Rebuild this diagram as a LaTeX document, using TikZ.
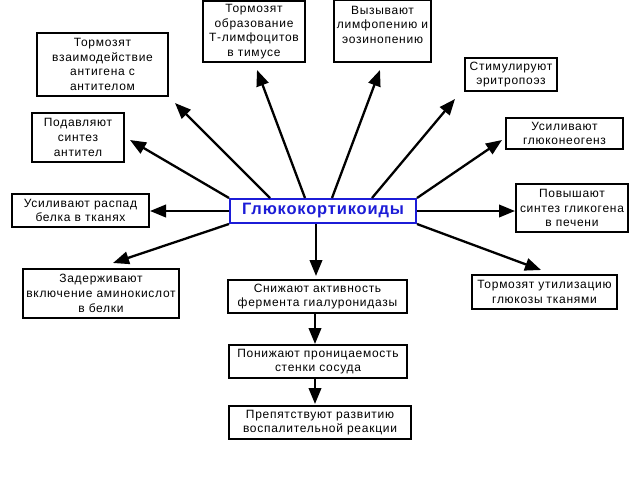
\documentclass[tikz,border=0pt]{standalone}
\usepackage{fontspec}
\setmainfont{Liberation Sans}
\newfontfamily\boxfont[LetterSpace=6]{Liberation Sans}
\newfontfamily\mainfont[LetterSpace=5]{Liberation Sans}
\usetikzlibrary{arrows.meta,calc}
\definecolor{gblue}{RGB}{28,28,215}
\tikzset{
  box/.style={draw=black, line width=2pt, fill=white, inner sep=0pt, align=center,
    font=\boxfont\fontsize{12}{14.7}\selectfont},
  mainbox/.style={draw=gblue, line width=2pt, fill=white, inner sep=0pt, align=center,
    text=gblue, font=\mainfont\bfseries\fontsize{16.5}{18}\selectfont},
  arr/.style={line width=2.3pt, -{Triangle[length=16pt,width=12.5pt]}}
}
\begin{document}
\begin{tikzpicture}[x=1pt,y=-1pt]
\useasboundingbox (0,0) rectangle (640,480);
\node[mainbox, minimum width=186pt, minimum height=24pt] (g) at (323,211) {Глюкокортикоиды};
\node[box, minimum width=131pt, minimum height=63pt] (b1) at (102.5,64.5) {Тормозят\\взаимодействие\\антигена с\\антителом};
\node[box, minimum width=92pt, minimum height=49pt] (b2) at (78,137.5) {Подавляют\\синтез\\антител};
\node[box, minimum width=102pt, minimum height=61pt] (b3) at (254,31.5) {Тормозят\\образование\\Т-лимфоцитов\\в тимусе};
\node[box, minimum width=97pt, minimum height=62pt] (b4) at (382.5,31) {Вызывают\\лимфопению и\\эозинопению\\[-2pt]\mbox{}};
\node[box, minimum width=92pt, minimum height=33pt] (b5) at (511,74.5) {Стимулируют\\эритропоэз};
\node[box, minimum width=117pt, minimum height=31pt] (b6) at (564.5,133.5) {Усиливают\\глюконеогенз};
\node[box, minimum width=137pt, minimum height=33pt] (b7) at (80.5,210.5) {Усиливают распад\\белка в тканях};
\node[box, minimum width=112pt, minimum height=48pt] (b8) at (572,208) {Повышают\\синтез гликогена\\в печени};
\node[box, minimum width=156pt, minimum height=49pt] (b9) at (101,293.5) {Задерживают\\включение аминокислот\\в белки};
\node[box, minimum width=179pt, minimum height=33pt] (b10) at (317.5,296.5) {Снижают активность\\фермента гиалуронидазы};
\node[box, minimum width=145pt, minimum height=34pt] (b11) at (544.5,292) {Тормозят утилизацию\\глюкозы тканями};
\node[box, minimum width=178pt, minimum height=33pt] (b12) at (318,361.5) {Понижают проницаемость\\стенки сосуда};
\node[box, minimum width=182pt, minimum height=33pt] (b13) at (320,422.5) {Препятствуют развитию\\воспалительной реакции};
% arrow tips
\coordinate (t1) at (175,103);
\coordinate (t2) at (130,140);
\coordinate (t3) at (257,70);
\coordinate (t4) at (380,70);
\coordinate (t5) at (455,99);
\coordinate (t6) at (502,140);
\coordinate (t7) at (150,211);
\coordinate (t8) at (515,211);
\coordinate (t9) at (113,263);
\coordinate (t10) at (316,276);
\coordinate (t11) at (541,270);
\coordinate (t12) at (315,344);
\coordinate (t13) at (315,404);
\draw[arr] (g.south west) -- (t9);
\draw[arr] (g.west) -- (t7);
\draw[arr] (g.north west) -- (t2);
\draw[arr] ([xshift=41pt]g.north west) -- (t1);
\draw[arr] ([xshift=76pt]g.north west) -- (t3);
\draw[arr] ([xshift=103pt]g.north west) -- (t4);
\draw[arr] ([xshift=143pt]g.north west) -- (t5);
\draw[arr] (g.north east) -- (t6);
\draw[arr] (g.east) -- (t8);
\draw[arr] (g.south east) -- (t11);
\draw[arr] ([xshift=-7pt]g.south) -- (t10);
\draw[arr] ([xshift=-2.5pt]b10.south) -- (t12);
\draw[arr] ([xshift=-3pt]b12.south) -- (t13);
\end{tikzpicture}
\end{document}
